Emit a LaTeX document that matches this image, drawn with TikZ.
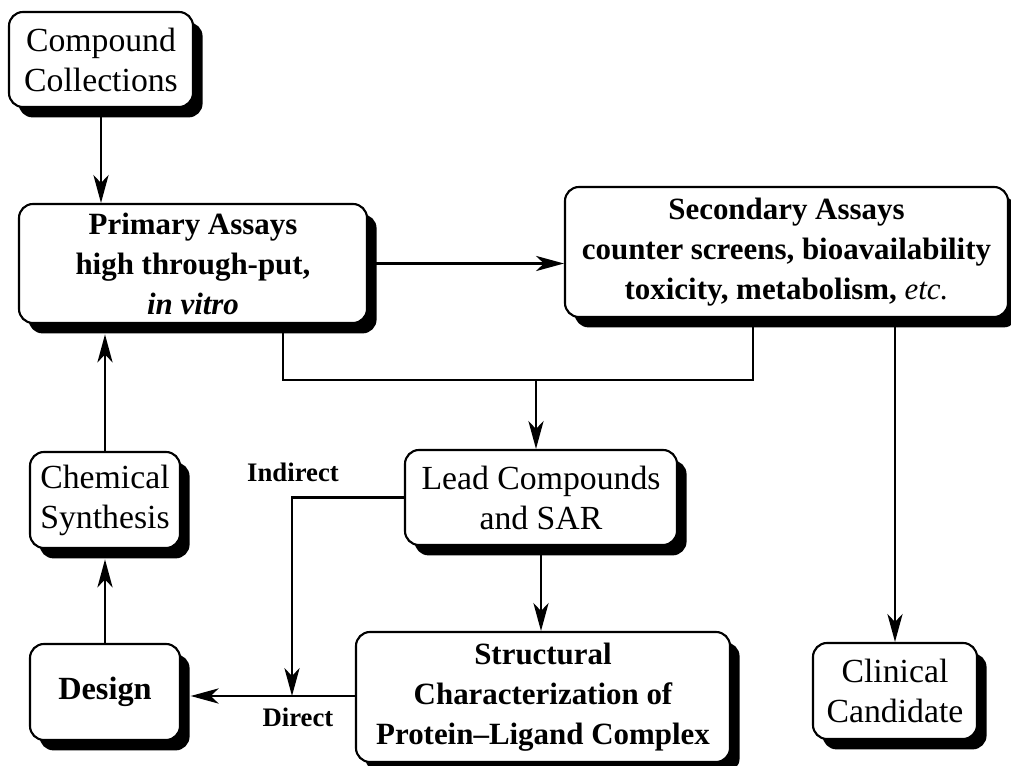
\documentclass[tikz,border=0pt]{standalone}
\usepackage{fontspec}
\setmainfont{Liberation Serif}
\usetikzlibrary{arrows.meta,shadows}

\tikzset{
  box/.style={draw, line width=1.5pt, rounded corners=0.35cm, fill=white, align=center, inner sep=0pt,
    drop shadow={shadow xshift=0.24cm, shadow yshift=-0.26cm, fill=black, opacity=1},
    font=\fontsize{24}{28.5}\selectfont},
  boldbox/.style={box, font=\fontsize{22}{28.5}\selectfont\bfseries},
  link/.style={line width=1.6pt},
  arr/.style={link, -{Stealth[length=0.7cm, width=0.38cm, inset=0.2cm]}},
  lab/.style={font=\fontsize{19}{22}\selectfont\bfseries}
}

\begin{document}
\begin{tikzpicture}
\useasboundingbox (0,0) rectangle (25.275,19.125);

\node[box, minimum width=4.6cm, minimum height=2.375cm] (coll) at (2.525,17.6375) {Compound\\Collections};
\node[boldbox, minimum width=8.7cm, minimum height=2.975cm] (primary) at (4.825,12.5375) {Primary Assays\\high through-put,\\\textit{in vitro}};
\node[boldbox, minimum width=11.075cm, minimum height=3.25cm] (second) at (19.6625,12.825) {Secondary Assays\\counter screens, bioavailability\\toxicity, metabolism, {\mdseries\itshape etc.}};
\node[box, minimum width=3.75cm, minimum height=2.4cm] (synth) at (2.625,6.625) {Chemical\\Synthesis};
\node[boldbox, font=\fontsize{23}{28.5}\selectfont\bfseries, minimum width=3.75cm, minimum height=2.4cm] (design) at (2.625,1.825) {Design};
\node[box, minimum width=6.8cm, minimum height=2.375cm] (lead) at (13.525,6.6875) {Lead Compounds\\and SAR};
\node[boldbox, minimum width=9.35cm, minimum height=3.25cm] (struct) at (13.575,1.7) {Structural\\Characterization of\\Protein--Ligand Complex};
\node[box, minimum width=4.1cm, minimum height=2.4cm] (clin) at (22.375,1.85) {Clinical\\Candidate};

\node[lab] (indlab) at (7.325,7.325) {Indirect};
\node[lab] (dirlab) at (7.45,1.2) {Direct};

\coordinate (junc) at (13.4,9.625);
\coordinate (split) at (7.3,1.725);

\draw[arr] (coll.south) -- (coll.south |- primary.north);
\draw[arr] (primary.east) -- (primary.east -| second.west);
\draw[link] ([xshift=2.25cm]primary.south) |- (junc) -| ([xshift=-0.8375cm]second.south);
\draw[arr] (junc) -- (junc |- lead.north);
\draw[arr] (lead.south) -- (lead.south |- struct.north);
\draw[arr] (lead.west) -| (split);
\draw[arr, shorten >=0.24cm] (struct.west |- split) -- (design.east |- split);
\draw[arr, shorten >=0.26cm] (design.north) -- (synth.south);
\draw[arr, shorten >=0.26cm] (synth.north) -- (synth.north |- primary.south);
\draw[arr] (clin.north |- second.south) -- (clin.north);
\end{tikzpicture}
\end{document}
